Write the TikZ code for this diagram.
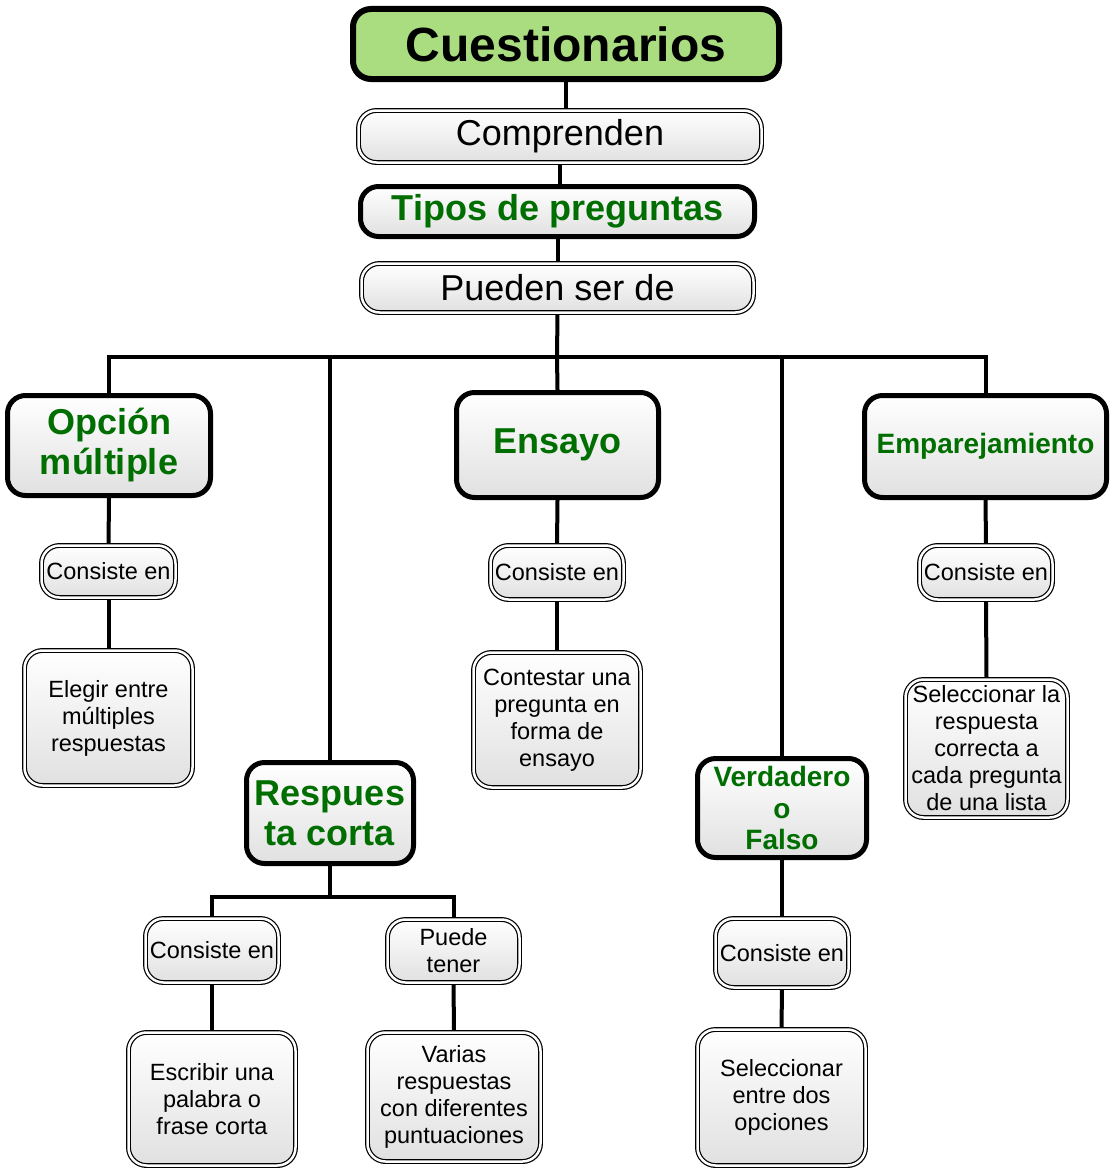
\documentclass[tikz,border=0pt]{standalone}
\usepackage{fontspec}
\setmainfont{Liberation Sans}
\usetikzlibrary{shadows,backgrounds}
\definecolor{titlegreen}{RGB}{0,110,0}
\definecolor{rootfill}{RGB}{170,220,128}
\newcommand{\fs}[2]{\fontsize{#1}{#2}\selectfont}
\tikzset{
  base/.style={rounded corners=18pt, inner sep=0pt, align=center,
    top color=white, bottom color=black!12,
    drop shadow={opacity=0.25, shadow xshift=2pt, shadow yshift=-2pt}},
  thickbox/.style={base, draw=black, line width=5pt, text=titlegreen},
  rootbox/.style={base, draw=black, line width=6pt, top color=rootfill, bottom color=rootfill},
  dblbox/.style={base, draw=black, line width=1.2pt, double=white, double distance=2.5pt, font=\fs{23.5}{27}},
  big/.style={font=\bfseries\fs{36}{40}},
  mid/.style={font=\bfseries\fs{28}{31.5}},
  plain/.style={font=\fs{36}{40}},
  conn/.style={draw=black, line width=4pt},
}
\begin{document}
\begin{tikzpicture}[x=1pt,y=-1pt]
\useasboundingbox (0,0) rectangle (1111,1172);
% top chain
\node[rootbox, minimum width=426pt, minimum height=70pt, font=\bfseries\fs{48}{50}] (cuest) at (566,44) {Cuestionarios};
\node[dblbox, plain, minimum width=403pt, minimum height=52pt] (compr) at (560,136.5) {Comprenden};
\node[thickbox, big, minimum width=394pt, minimum height=50pt] (tipos) at (557.5,211.5) {Tipos de preguntas};
\node[dblbox, plain, minimum width=392pt, minimum height=49pt] (pueden) at (557.5,288) {Pueden ser de};
% types
\node[thickbox, big, minimum width=203pt, minimum height=100pt] (opcion) at (109,445.5) {Opción\\múltiple};
\node[thickbox, big, minimum width=202pt, minimum height=105pt] (ensayo) at (557.5,445) {Ensayo};
\node[thickbox, mid, minimum width=242pt, minimum height=102pt] (empar) at (985.5,446.5) {Emparejamiento};
\node[thickbox, big, minimum width=167pt, minimum height=101pt] (resp) at (330,813) {Respues\\ta corta};
\node[thickbox, mid, minimum width=169pt, minimum height=99pt] (verd) at (782,808) {Verdadero\\o\\Falso};
% consiste en
\node[dblbox, minimum width=134pt, minimum height=52pt] (ce1) at (108.5,571.5) {Consiste en};
\node[dblbox, minimum width=133pt, minimum height=54pt] (ce2) at (557,572.5) {Consiste en};
\node[dblbox, minimum width=133pt, minimum height=54pt] (ce3) at (986,572.5) {Consiste en};
\node[dblbox, minimum width=133pt, minimum height=64pt] (ce4) at (212,950.5) {Consiste en};
\node[dblbox, minimum width=132pt, minimum height=63pt] (puede) at (453.5,951) {Puede\\tener};
\node[dblbox, minimum width=133pt, minimum height=69pt] (ce5) at (782,953) {Consiste en};
% leaves
\node[dblbox, minimum width=168pt, minimum height=135pt] (elegir) at (108.5,718) {Elegir entre\\múltiples\\respuestas};
\node[dblbox, minimum width=167pt, minimum height=135pt] (contestar) at (557,720) {Contestar una\\pregunta en\\forma de\\ensayo};
\node[dblbox, minimum width=162pt, minimum height=138pt] (selecla) at (986.5,748.5) {Seleccionar la\\respuesta\\correcta a\\cada pregunta\\de una lista};
\node[dblbox, minimum width=167pt, minimum height=133pt] (escribir) at (212,1099) {Escribir una\\palabra o\\frase corta};
\node[dblbox, minimum width=173pt, minimum height=129pt] (varias) at (454,1097) {Varias\\respuestas\\con diferentes\\puntuaciones};
\node[dblbox, minimum width=168pt, minimum height=136pt] (selecentre) at (781.5,1097.5) {Seleccionar\\entre dos\\opciones};
% connectors
\coordinate (bus) at (557,357);
\coordinate (rcbus) at (330,897);
\begin{pgfonlayer}{background}
\draw[conn] (cuest.south) -- (cuest.south |- compr.north);
\draw[conn] (compr.south) -- (compr.south |- tipos.north);
\draw[conn] (tipos.south) -- (tipos.south |- pueden.north);
\draw[conn] (pueden.south) -- (bus);
\draw[conn, line cap=rect] (opcion.north) |- (bus) -| (empar.north);
\draw[conn] (resp.north) |- (bus);
\draw[conn] (ensayo.north) -- (bus);
\draw[conn] (verd.north) |- (bus);
\draw[conn] (opcion.south) -- (ce1.north);
\draw[conn] (ce1.south) -- (elegir.north);
\draw[conn] (ensayo.south) -- (ce2.north);
\draw[conn] (ce2.south) -- (contestar.north);
\draw[conn] (empar.south) -- (ce3.north);
\draw[conn] (ce3.south) -- (selecla.north);
\draw[conn] (resp.south) -- (rcbus);
\draw[conn, line cap=rect] (ce4.north) |- (rcbus) -| (puede.north);
\draw[conn] (ce4.south) -- (escribir.north);
\draw[conn] (puede.south) -- (varias.north);
\draw[conn] (verd.south) -- (ce5.north);
\draw[conn] (ce5.south) -- (selecentre.north);
\end{pgfonlayer}
\end{tikzpicture}
\end{document}
